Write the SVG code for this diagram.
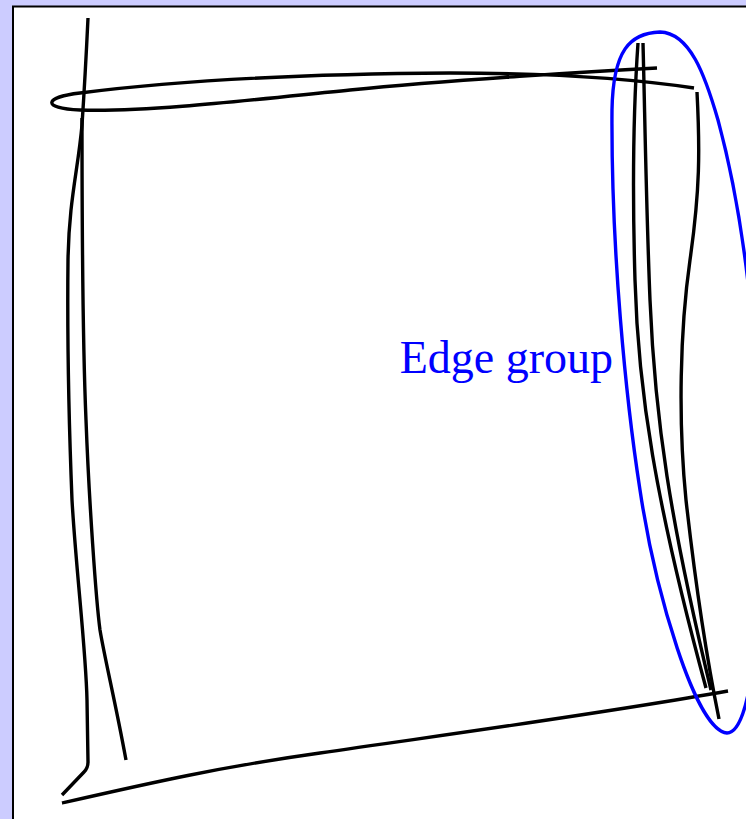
<svg xmlns="http://www.w3.org/2000/svg" width="746" height="819" viewBox="0 0 746 819">
<style>
.edge{fill:none;stroke:#000;stroke-width:3.4;stroke-linecap:butt;stroke-linejoin:round}
.grp{fill:none;stroke:#0000ff;stroke-width:3.4}
.lbl{font-family:"Liberation Serif","DejaVu Serif",serif;font-size:46px;fill:#0000ff}
</style>
<rect x="0" y="0" width="746" height="819" fill="#ccccff"/>
<rect id="frame" x="13" y="6.5" width="760" height="840" fill="#ffffff" stroke="#000" stroke-width="2"/>
<g id="connectors">
<path class="edge" d="M657,68 C600,71 450,80 350,90 C250,100 150,112 80,110 C40,108 45,97 80,93 C180,80 300,74 450,73 C560,73 640,80 694,88"/>
<path class="edge" d="M88,18 C86,60 84,95 82,125 C78,170 69,200 68,260 C67,350 70,450 72,500 C76,570 86,650 87,700 L88,762 Q88,768 84,772 L62,795"/>
<path class="edge" d="M82,118 C82,200 83,350 86,420 C89,500 96,600 100,630 C105,660 115,700 126,760"/>
<path class="edge" d="M638,43 C634,100 632,180 635,280 C638,390 655,500 706,688"/>
<path class="edge" d="M643,43 C645,120 646,200 650,300 C655,420 670,520 711,690"/>
<path class="edge" d="M697,92 C700,150 700,190 690,260 C680,330 678,420 686,500 C695,580 705,650 719,719"/>
<path class="edge" d="M62,803 C150,783 220,767 320,753 C450,734 600,714 728,691"/>
</g>
<g id="edge-group">
<path class="grp" d="M660,32 C630,33 613,50 612,110 C611,250 626,400 640,490 C655,590 695,730 727,733 C752,733 762,620 760,480 C758,340 745,220 718,120 C705,75 690,33 660,32 Z"/>
<text class="lbl" x="613" y="373" text-anchor="end">Edge group</text>
</g>
</svg>
